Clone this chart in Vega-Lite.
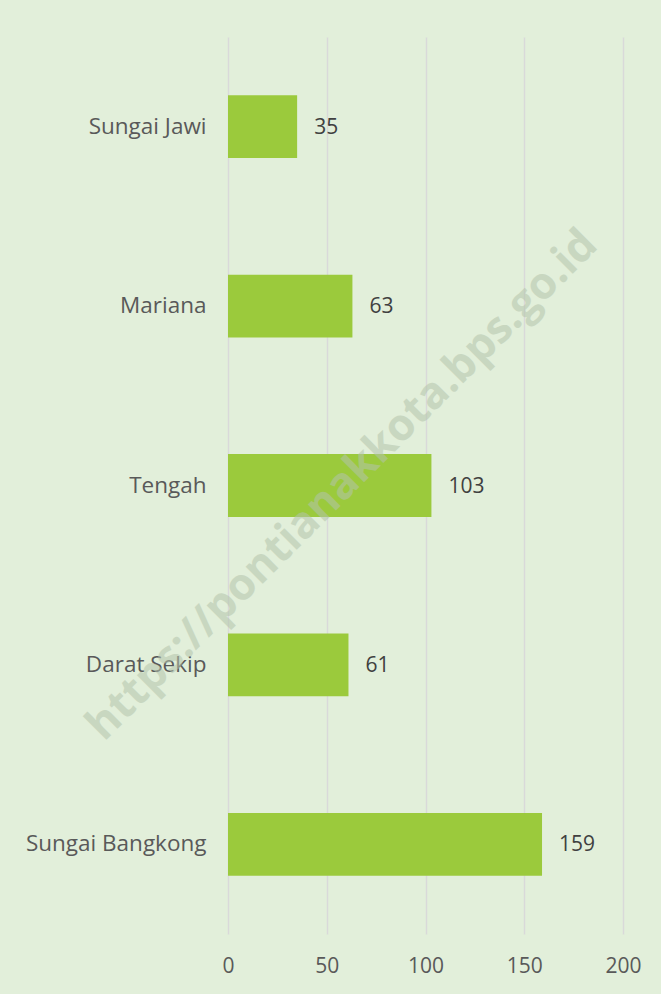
{
  "$schema": "https://vega.github.io/schema/vega-lite/v6.json",
  "autosize": {"type": "none"},
  "width": 395,
  "height": 897,
  "padding": {"left": 228, "top": 37, "right": 38, "bottom": 60},
  "background": "#E2EFDA",
  "config": {
    "view": {"stroke": null},
    "font": "Open Sans"
  },
  "datasets": {
    "bars": [
      {"kelurahan": "Sungai Jawi", "jumlah": 35},
      {"kelurahan": "Mariana", "jumlah": 63},
      {"kelurahan": "Tengah", "jumlah": 103},
      {"kelurahan": "Darat Sekip", "jumlah": 61},
      {"kelurahan": "Sungai Bangkong", "jumlah": 159}
    ],
    "wm": [
      {"kelurahan": "Tengah", "jumlah": 58, "teks": "https://pontianakkota.bps.go.id"}
    ]
  },
  "encoding": {
    "y": {
      "field": "kelurahan", "type": "nominal",
      "sort": ["Sungai Jawi", "Mariana", "Tengah", "Darat Sekip", "Sungai Bangkong"],
      "scale": {"paddingInner": 0.65, "paddingOuter": 0.325},
      "axis": {"title": null, "domain": false, "ticks": false, "labelPadding": 22, "labelLimit": 400, "labelFontSize": 22.5, "labelColor": "#595959", "labelFont": "Open Sans"}
    },
    "x": {
      "field": "jumlah", "type": "quantitative",
      "scale": {"domain": [0, 200]},
      "axis": {"title": null, "domain": false, "ticks": false, "values": [0, 50, 100, 150, 200], "labelFlush": false, "labelPadding": 21, "labelFontSize": 21, "labelColor": "#595959", "gridColor": "#D9D9D9", "gridWidth": 1.5, "labelFont": "Open Sans"}
    }
  },
  "layer": [
    {
      "data": {"name": "bars"},
      "mark": {"type": "bar", "color": "#9BCA3C"}
    },
    {
      "data": {"name": "bars"},
      "mark": {"type": "text", "align": "left", "dx": 17, "dy": 1, "fontSize": 21, "color": "#404040"},
      "encoding": {"text": {"field": "jumlah", "type": "quantitative"}}
    },
    {
      "data": {"name": "wm"},
      "mark": {"type": "text", "angle": 315, "fontSize": 44, "fontWeight": "bold", "color": "#B4C4AC", "opacity": 0.55, "align": "center", "baseline": "middle"},
      "encoding": {"text": {"field": "teks"}}
    }
  ]
}
